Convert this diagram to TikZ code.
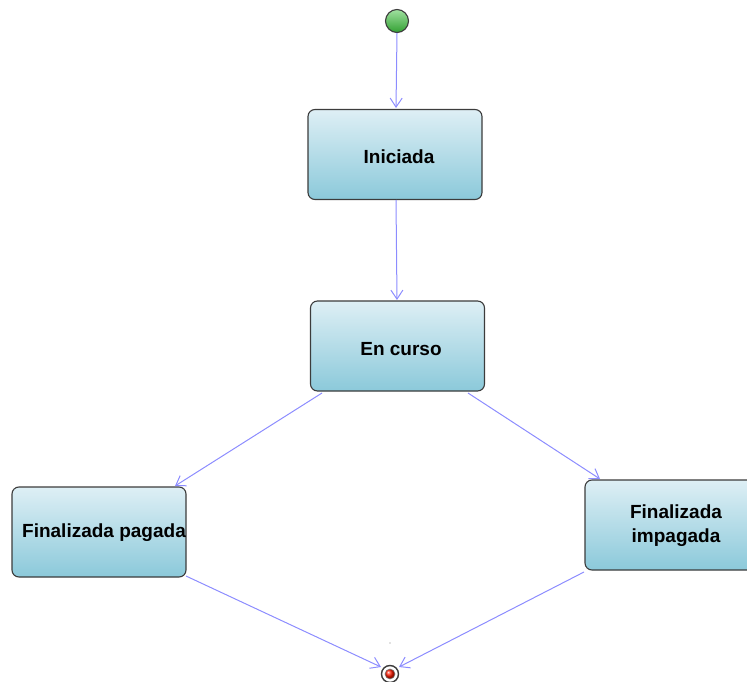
\documentclass[tikz,border=0pt]{standalone}
\usepackage{fontspec}
\setmainfont{Liberation Sans}
\usetikzlibrary{arrows.meta}
\definecolor{boxtop}{RGB}{222,239,245}
\definecolor{boxbot}{RGB}{139,201,218}
\definecolor{edge}{RGB}{60,60,60}
\definecolor{flow}{RGB}{140,140,255}
\definecolor{startg}{RGB}{50,160,50}
\definecolor{startl}{RGB}{160,225,160}
\begin{document}
\begin{tikzpicture}[x=1pt,y=-1pt,
  state/.style={draw=edge,line width=1.1pt,rounded corners=7pt,
    top color=boxtop,bottom color=boxbot,minimum width=174pt,minimum height=90pt,
    inner sep=0pt},
  lbl/.style={font=\bfseries\fontsize{19}{24}\selectfont,align=center,inner sep=0pt},
  flowline/.style={draw=flow,line width=1pt,-{Straight Barb[length=9pt,width=12pt,line width=1pt]}}]
\useasboundingbox (0,0) rectangle (747,682);

% initial pseudo-state
\node (start) [circle,draw=edge,line width=1.1pt,minimum size=23pt,inner sep=0pt,
  top color=startl,bottom color=startg] at (397,21) {};

% states
\node (ini) [state] at (395,154.5) {};
\node[lbl] (iniT) at (399,157) {Iniciada};
\node (cur) [state] at (397.5,346) {};
\node[lbl] (curT) at (401,349) {En curso};
\node (pag) [state] at (99,532) {};
\node[lbl] (pagT) at (104,533) {Finalizada pagada};
\node (imp) [state] at (672,525) {};
\node[lbl] (impT) at (676,526) {Finalizada\\impagada};

% final state
\node (fin) [circle,draw=edge,line width=1.4pt,fill=white,minimum size=17pt,inner sep=0pt] at (390,674) {};
\node (finIn) [circle,draw=gray,line width=0.6pt,ball color=red!80!orange,minimum size=10pt,inner sep=0pt] at (fin) {};
\fill[gray] (390,643) circle (0.6pt);

% transitions
\coordinate (s1) at (397,33);  \coordinate (e1) at (396,108);
\coordinate (s2) at (396,200); \coordinate (e2) at (397,300);
\coordinate (s3) at (322,393); \coordinate (e3) at (175,486);
\coordinate (s4) at (468,393); \coordinate (e4) at (600,479);
\coordinate (s5) at (186,576); \coordinate (e5) at (381,667);
\coordinate (s6) at (584,572); \coordinate (e6) at (399,667);
\draw[flowline] (s1) -- (e1);
\draw[flowline] (s2) -- (e2);
\draw[flowline] (s3) -- (e3);
\draw[flowline] (s4) -- (e4);
\draw[flowline] (s5) -- (e5);
\draw[flowline] (s6) -- (e6);
\end{tikzpicture}
\end{document}
